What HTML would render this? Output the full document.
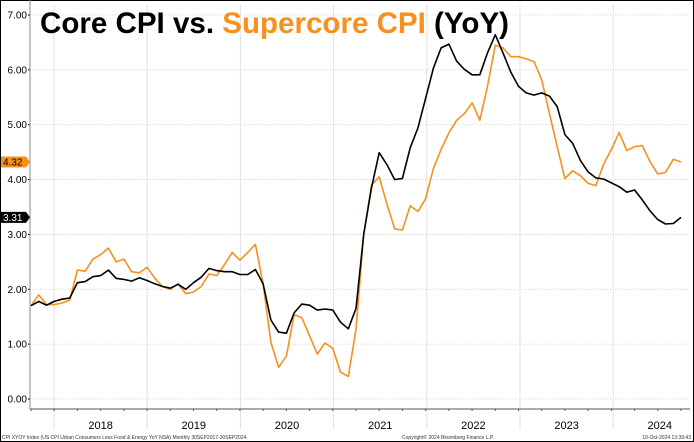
<!DOCTYPE html>
<html><head><meta charset="utf-8">
<style>
html,body{margin:0;padding:0;background:#fff;}
svg{display:block;font-family:"Liberation Sans",sans-serif;}
</style></head>
<body>
<svg id="chart" width="694" height="442" viewBox="0 0 694 442" xmlns="http://www.w3.org/2000/svg">
<rect x="0.5" y="0.5" width="693" height="441" fill="#fff" stroke="#000"/>
<g id="grid"></g>
<g id="axes"></g>
<g id="series"></g>
<text x="40" y="33" font-size="30" font-weight="bold" textLength="469" lengthAdjust="spacingAndGlyphs"><tspan fill="#000">Core CPI vs. </tspan><tspan fill="#f7901e">Supercore CPI</tspan><tspan fill="#000"> (YoY)</tspan></text>
<text x="2" y="439" font-size="5" fill="#333">CPI XYOY Index (US CPI Urban Consumers Less Food &amp; Energy YoY NSA)  Monthly 30SEP2017-30SEP2024</text>
<text x="402" y="439" font-size="5" fill="#333">Copyright© 2024 Bloomberg Finance L.P.</text>
<text x="691" y="439" font-size="5" fill="#333" text-anchor="end">10-Oct-2024 13:39:43</text>
</svg>
<script>
const years = ["2018","2019","2020","2021","2022","2023","2024"];
const yTicks = [0,1,2,3,4,5,6,7];
const yTickLabels = ["0.00","1.00","2.00","3.00","4.00","5.00","6.00","7.00"];
const coreCPI = [1.70,1.78,1.71,1.78,1.82,1.84,2.12,2.14,2.23,2.25,2.35,2.20,2.18,2.15,2.21,2.16,2.10,2.05,2.02,2.09,2.00,2.12,2.22,2.38,2.34,2.32,2.32,2.27,2.27,2.36,2.10,1.44,1.22,1.20,1.57,1.73,1.71,1.62,1.64,1.62,1.40,1.28,1.65,3.00,3.85,4.49,4.27,4.00,4.02,4.58,4.94,5.48,6.03,6.40,6.47,6.16,6.01,5.91,5.91,6.31,6.64,6.31,5.96,5.70,5.58,5.54,5.58,5.52,5.33,4.82,4.66,4.35,4.14,4.03,4.01,3.94,3.87,3.77,3.81,3.63,3.43,3.27,3.19,3.20,3.31];
const supercoreCPI = [1.70,1.90,1.72,1.72,1.75,1.80,2.35,2.33,2.55,2.63,2.75,2.50,2.55,2.32,2.30,2.40,2.20,2.05,2.00,2.10,1.92,1.95,2.05,2.28,2.25,2.45,2.67,2.53,2.67,2.82,2.10,1.03,0.58,0.78,1.54,1.48,1.15,0.82,1.02,0.92,0.49,0.41,1.27,3.00,3.90,4.05,3.55,3.10,3.08,3.52,3.42,3.65,4.20,4.55,4.85,5.08,5.20,5.40,5.08,5.70,6.45,6.40,6.24,6.24,6.20,6.15,5.82,5.20,4.60,4.02,4.16,4.07,3.93,3.89,4.28,4.55,4.86,4.53,4.60,4.62,4.33,4.10,4.13,4.37,4.32];
const lastCore = "3.31";
const lastSuper = "4.32";

const NS="http://www.w3.org/2000/svg";
const x0=31,x1=681,yBase=399,yTop=15,plotL=30,plotR=690,axisY=409;
function yScale(v){return yBase-(v/7)*(yBase-yTop);}
function xScale(i,n){return x0+(x1-x0)*i/(n-1);}
function yearBoundary(k){return 54+k*93.2;}
function mk(tag,attrs,parent){const e=document.createElementNS(NS,tag);for(const k in attrs)e.setAttribute(k,attrs[k]);parent.appendChild(e);return e;}

const grid=document.getElementById('grid'),axes=document.getElementById('axes'),series=document.getElementById('series');

yTicks.forEach((t,i)=>{
  const y=yScale(t);
  const l=mk('line',{x1:plotL,x2:plotR,y1:y,y2:y,stroke:'#c8c8c8','stroke-width':0.8,'stroke-dasharray':'1,1.5'},grid);
  
  
  const tk=mk('line',{x1:plotL-2,x2:plotL,y1:y,y2:y,stroke:'#000'},axes);
  
  
  const tx=mk('text',{x:plotL-3,y:y+3.5,'font-size':10,'text-anchor':'end',fill:'#000'},axes);
  tx.textContent=yTickLabels[i];
  
  
});
for(let k=0;k<=years.length;k++){
  const x=yearBoundary(k);
  if(x>plotR)break;
  const l=mk('line',{x1:x,x2:x,y1:yTop-10,y2:axisY+20,stroke:'#e2e2e2','stroke-width':1},grid);
  
  
}
years.forEach((yr,k)=>{
  const t=mk('text',{x:yearBoundary(k)+46.6,y:429,'font-size':11,'text-anchor':'middle',fill:'#000'},axes);
  t.textContent=yr;
  
  
});
const yAx=mk('line',{x1:plotL,x2:plotL,y1:0,y2:axisY,stroke:'#888','stroke-width':1},axes);


const xAx=mk('line',{x1:plotL,x2:plotR,y1:axisY,y2:axisY,stroke:'#555','stroke-width':1},axes);


for(let i=0;i<supercoreCPI.length;i+=3){
  const x=xScale(i,supercoreCPI.length);
  const m=mk('line',{x1:x,x2:x,y1:axisY,y2:axisY+2,stroke:'#555'},axes);
  
  
}

function drawLine(arr,color,name){
  const n=arr.length;
  const d=arr.map((v,i)=>(i?'L':'M')+xScale(i,n).toFixed(1)+' '+yScale(v).toFixed(1)).join(' ');
  const p=mk('path',{d:d,fill:'none',stroke:color,'stroke-width':1.6,'stroke-linejoin':'round'},series);
  
  
}
drawLine(supercoreCPI,'#f7901e','supercore-cpi-line');
drawLine(coreCPI,'#000','core-cpi-line');

function badge(val,color,txtColor,name){
  const y=yScale(parseFloat(val));
  const p=mk('path',{d:`M1 ${y-5.5} L26 ${y-5.5} L30 ${y} L26 ${y+5.5} L1 ${y+5.5} Z`,fill:color},axes);
  
  
  const t=mk('text',{x:3,y:y+3.5,'font-size':10,fill:txtColor},axes);
  t.textContent=val;
  
  
}
badge(lastSuper,'#f7901e','#000','supercore-last-value');
badge(lastCore,'#000','#fff','core-last-value');
</script>
</body></html>
